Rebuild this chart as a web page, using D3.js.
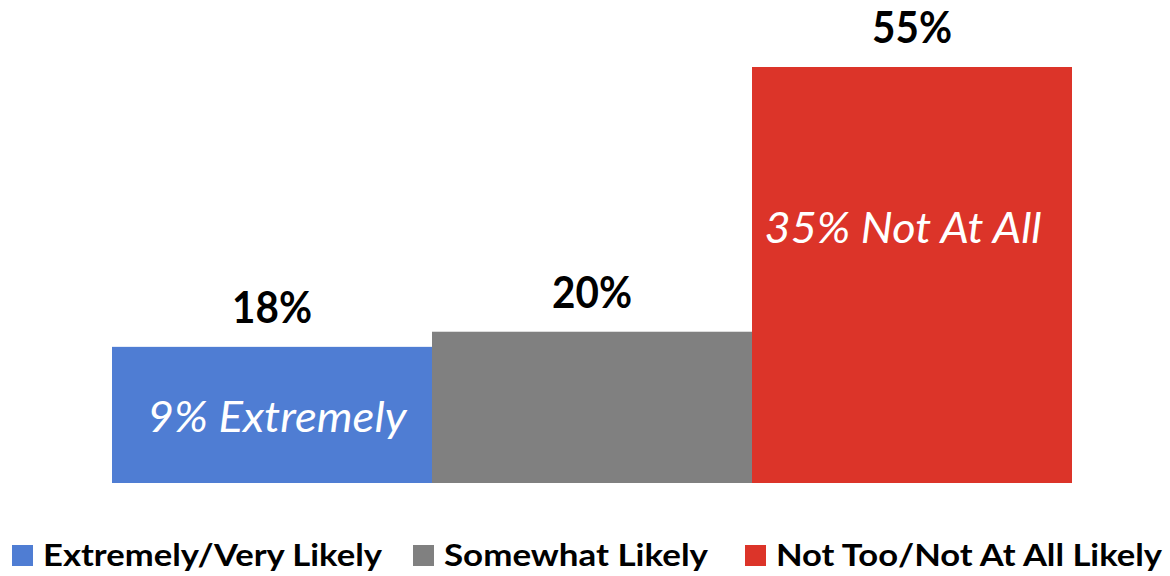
<!DOCTYPE html>
<html><head><meta charset="utf-8">
<script src="https://cdn.jsdelivr.net/npm/d3@7"></script>
<style>html,body{margin:0;padding:0;background:#fff;}svg{display:block;}</style>
</head><body>
<svg id="chart" width="1170" height="576"></svg>
<script>
const categories = ["Extremely/Very Likely", "Somewhat Likely", "Not Too/Not At All Likely"];
const values = [18, 20, 55];
const valueLabels = ["18%", "20%", "55%"];
const innerLabels = ["9% Extremely", "", "35% Not At All"];
const colors = ["#4F7DD3", "#808080", "#DC3429"];

const svg = d3.select("#chart");
const FONT = "Lato, 'Open Sans', sans-serif";

const x = d3.scaleBand().domain(categories).range([112, 1072]).padding(0);
const y = d3.scaleLinear().domain([0, 55]).range([483, 67]);

function fit(sel, targetW) {
  sel.attr("textLength", targetW).attr("lengthAdjust", "spacingAndGlyphs");
}

svg.selectAll("rect.bar").data(categories).enter().append("rect")
  .attr("class", "bar")
  .attr("x", d => x(d))
  .attr("width", x.bandwidth())
  .attr("y", (d, i) => y(values[i]))
  .attr("height", (d, i) => y(0) - y(values[i]))
  .attr("fill", (d, i) => colors[i]);

svg.selectAll("text.val").data(categories).enter().append("text")
  .attr("class", "val")
  .attr("x", d => x(d) + x.bandwidth() / 2)
  .attr("y", (d, i) => y(values[i]) - 24)
  .attr("text-anchor", "middle")
  .attr("font-family", FONT).attr("font-weight", "bold")
  .attr("font-size", 43).attr("fill", "#000")
  .text((d, i) => valueLabels[i])
  .call(fit, 80);

const innerPos = [{dx: 5, dy: 85, w: 259}, null, {dx: -9, dy: 176, w: 277}];
categories.forEach((c, i) => {
  if (!innerLabels[i]) return;
  const p = innerPos[i];
  svg.append("text")
    .attr("x", x(c) + x.bandwidth() / 2 + p.dx)
    .attr("y", y(values[i]) + p.dy)
    .attr("text-anchor", "middle")
    .attr("font-family", FONT).attr("font-style", "italic")
    .attr("font-size", 42).attr("fill", "#fff")
    .text(innerLabels[i])
    .call(fit, p.w);
});

const legendX = [12, 413, 745];
const legendW = [339, 264, 386];
const lg = svg.append("g");
categories.forEach((c, i) => {
  lg.append("rect").attr("x", legendX[i]).attr("y", 545).attr("width", 21).attr("height", 21).attr("fill", colors[i]);
  lg.append("text").attr("x", legendX[i] + 31).attr("y", 566)
    .attr("font-family", FONT).attr("font-weight", "bold")
    .attr("font-size", 30).attr("fill", "#000")
    .text(c)
    .call(fit, legendW[i]);
});
</script>
</body></html>
